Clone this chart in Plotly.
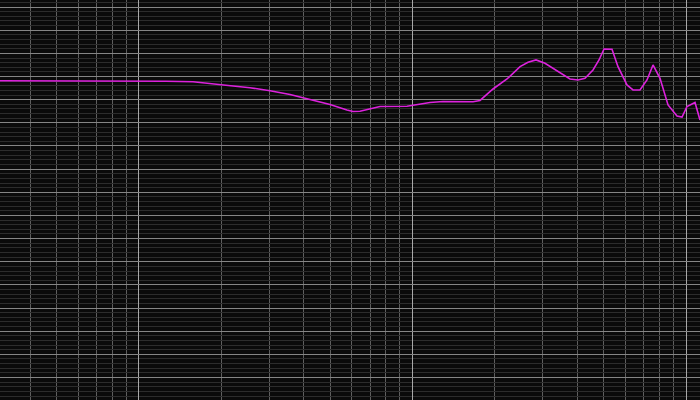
import plotly.graph_objects as go

# Frequency response (Hz / dB)
freq = [31, 100, 125.5, 157.6, 177.3, 197.8, 220.7, 254.6, 301.3, 356.6,
        401.2, 499.3, 576, 606, 642.8, 699.1, 760.7, 954.8, 1158.8, 1292.6,
        1664.6, 1765.7, 1970.2, 2215.6, 2473, 2644.8, 2828.3, 3051, 3376,
        3766, 4028, 4272, 4571, 4808, 5015, 5364, 5641, 6085, 6400, 6788,
        7201, 7575, 8035, 8596, 9271, 9670, 10085, 10787, 11250]
spl = [4.10, 4.10, 3.97, 3.89, 3.61, 3.33, 2.96, 2.59, 1.94, 1.12,
       0.37, -1.04, -2.22, -2.55, -2.51, -2.01, -1.47, -1.43, -0.60, -0.39,
       -0.45, -0.17, 2.31, 4.47, 7.13, 8.08, 8.58, 7.86, 6.20,
       4.47, 4.26, 4.62, 6.42, 8.58, 10.95, 10.89, 7.13, 3.18, 2.10, 2.10,
       4.26, 7.50, 4.62, -1.14, -3.52, -3.74, -1.47, -0.60, -4.38]

fig = go.Figure()
fig.add_trace(go.Scatter(x=freq, y=spl, mode='lines',
                         line=dict(color='#dd22dd', width=1.6),
                         hoverinfo='skip', showlegend=False))

fig.update_xaxes(type='log', range=[1.4918, 4.0512],
                 dtick=1, showticklabels=False, ticks='',
                 showgrid=True, gridcolor='#a8a8a8', gridwidth=1,
                 zeroline=False, showline=False,
                 minor=dict(dtick='D1', showgrid=True, gridcolor='#5e5e5e',
                            gridwidth=1, ticks=''))
fig.update_yaxes(range=[-64.86, 21.53], dtick=5, tick0=0,
                 showticklabels=False, ticks='',
                 showgrid=True, gridcolor='#858585', gridwidth=1,
                 zeroline=False, showline=False,
                 minor=dict(dtick=1, showgrid=True, gridcolor='#2c2c2c',
                            gridwidth=1, ticks=''))

fig.update_layout(width=700, height=400,
                  margin=dict(l=0, r=0, t=0, b=0),
                  paper_bgcolor='#0a0a0a', plot_bgcolor='#0a0a0a')

fig.write_html("out.html", config={'displayModeBar': False},
               post_script="document.body.style.margin='0';")
